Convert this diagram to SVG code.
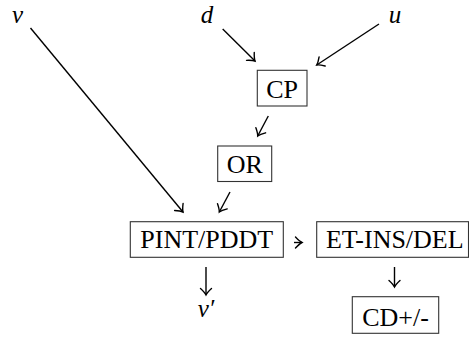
<svg xmlns="http://www.w3.org/2000/svg" width="469" height="337" viewBox="0 0 469 337">
<defs>
<marker id="ah" markerUnits="userSpaceOnUse" markerWidth="16" markerHeight="16" viewBox="-8 -8 16 16" refX="0" refY="0" orient="auto">
<path d="M -6.5,-5.5 Q -2.5,-1.2 0,0 Q -2.5,1.2 -6.5,5.5" fill="none" stroke="#000" stroke-width="1.4" stroke-linecap="round"/>
</marker>
</defs>
<style>
.box{fill:#fff;stroke:#333;stroke-width:1.1}
.lbl{font-family:"Liberation Serif",serif;font-size:26px;fill:#000;text-anchor:middle}
.var{font-family:"Liberation Serif",serif;font-style:italic;font-size:25px;fill:#000;text-anchor:middle}
.edge{stroke:#000;stroke-width:1.4;fill:none;marker-end:url(#ah)}
</style>
<g id="connectors">
<line class="edge" x1="30.5" y1="28" x2="183" y2="212"/>
<line class="edge" x1="222.7" y1="29" x2="255" y2="61"/>
<line class="edge" x1="379" y1="24" x2="316.7" y2="65"/>
<line class="edge" x1="268.3" y1="116" x2="257.7" y2="136"/>
<line class="edge" x1="230" y1="192" x2="219.3" y2="212"/>
<line class="edge" x1="294" y1="242.5" x2="302" y2="242.5"/>
<line class="edge" x1="206" y1="267" x2="206" y2="295"/>
<line class="edge" x1="394.5" y1="267" x2="394.5" y2="287"/>
</g>
<g id="v"><text class="var" x="17.5" y="22.5">v</text></g>
<g id="d"><text class="var" x="207" y="23">d</text></g>
<g id="u"><text class="var" x="395" y="22.5">u</text></g>
<g id="cp"><rect class="box" x="257.3" y="70.3" width="49.7" height="35.7"/><text class="lbl" x="282.2" y="97.7">CP</text></g>
<g id="or"><rect class="box" x="217.7" y="146" width="54" height="35.5"/><text class="lbl" x="244.7" y="173.3">OR</text></g>
<g id="pint"><rect class="box" x="130.3" y="221.7" width="153" height="35.6"/><text class="lbl" x="206.8" y="248.3">PINT/PDDT</text></g>
<g id="etins"><rect class="box" x="316.7" y="221.7" width="151.8" height="35.6"/><text class="lbl" x="394.8" y="248.3">ET-INS/DEL</text></g>
<g id="cd"><rect class="box" x="352.3" y="296.7" width="86.4" height="36.6"/><text class="lbl" x="395.5" y="326">CD+/-</text></g>
<g id="vprime"><text class="var" x="206" y="317.3">v′</text></g>
</svg>
